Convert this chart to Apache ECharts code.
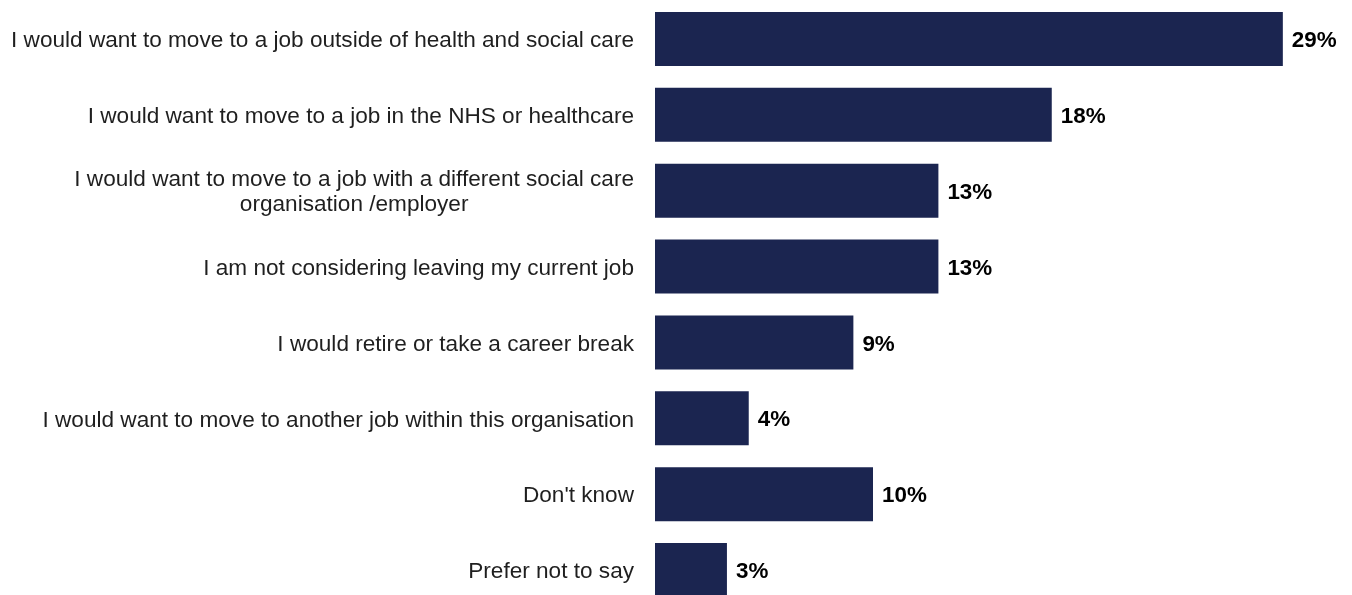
<!DOCTYPE html>
<html>
<head>
<meta charset="utf-8">
<script src="https://cdn.jsdelivr.net/npm/echarts@6/dist/echarts.min.js"></script>
<style>
  html, body { margin: 0; padding: 0; background: #fff; }
  #main { width: 1352px; height: 595px; }
</style>
</head>
<body>
<div id="main"></div>
<script>
// answer options, top to bottom
const categories = [
  'I would want to move to a job outside of health and social care',
  'I would want to move to a job in the NHS or healthcare',
  'I would want to move to a job with a different social care\norganisation /employer',
  'I am not considering leaving my current job',
  'I would retire or take a career break',
  'I would want to move to another job within this organisation',
  "Don't know",
  'Prefer not to say'
];
// share of respondents (%)
const values = [28.8, 18.2, 13.0, 13.0, 9.1, 4.3, 10.0, 3.3];

const chart = echarts.init(document.getElementById('main'), null, { renderer: 'canvas' });

const option = {
  animation: false,
  backgroundColor: '#ffffff',
  grid: {
    left: 655,
    right: 43,
    top: 1,
    height: 607,
    containLabel: false,
    outerBoundsMode: 'none'
  },
  xAxis: {
    type: 'value',
    min: 0,
    max: 30,
    show: false
  },
  yAxis: {
    type: 'category',
    inverse: true,
    data: categories,
    axisLine: { show: false },
    axisTick: { show: false },
    axisLabel: {
      margin: 21,
      fontFamily: 'Liberation Sans',
      fontSize: 22.6,
      color: '#1f1f1f',
      padding: [4, 0, 0, 0],
      formatter: function (v) {
        // centre each line of a wrapped label
        return v.split('\n').map(function (s) { return '{c|' + s + '}'; }).join('\n');
      },
      rich: {
        c: {
          align: 'center',
          fontFamily: 'Liberation Sans',
          fontSize: 22.6,
          lineHeight: 25,
          color: '#1f1f1f'
        }
      }
    }
  },
  series: [{
    type: 'bar',
    data: values,
    barWidth: 54,
    itemStyle: { color: '#1b2550' },
    label: {
      show: true,
      position: 'right',
      distance: 9,
      offset: [0, 2],
      fontFamily: 'Liberation Sans',
      fontSize: 22.4,
      fontWeight: 'bold',
      color: '#000000',
      formatter: function (p) {
        return Math.round(p.value) + '%';
      }
    }
  }]
};

chart.setOption(option);
</script>
</body>
</html>
